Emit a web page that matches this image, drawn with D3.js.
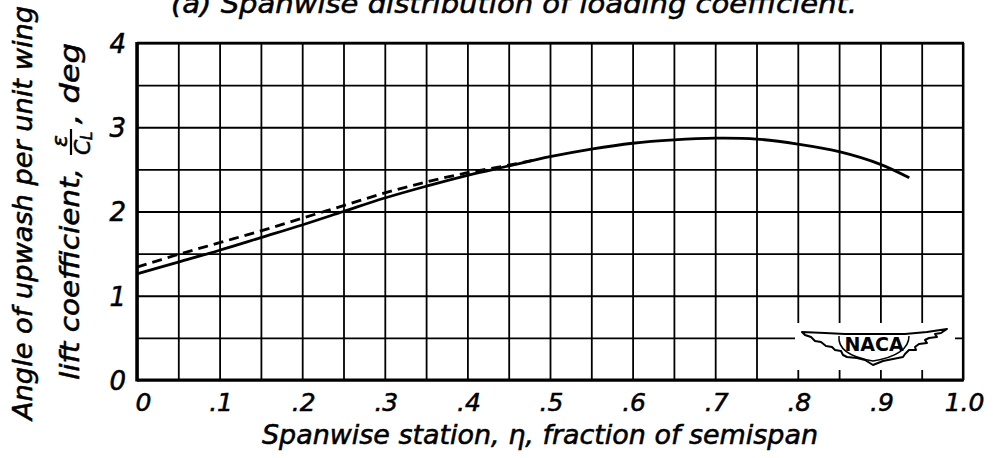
<!DOCTYPE html>
<html><head><meta charset="utf-8">
<script src="https://cdn.jsdelivr.net/npm/d3@7"></script>
<style>
body{margin:0;background:#fff}
svg{display:block}
text{font-family:"DejaVu Sans",sans-serif;font-style:oblique;fill:#000;stroke:#000;stroke-width:0.55px}
</style>
</head><body>
<svg id="c" width="993" height="458"></svg>
<script>
// ---- data ----
const solidEta = [0, 0.05, 0.1, 0.15, 0.2, 0.25, 0.3, 0.35, 0.4, 0.45, 0.5, 0.55, 0.6, 0.65, 0.7, 0.75, 0.8, 0.85, 0.9, 0.935];
const solidVal = [1.26, 1.40, 1.54, 1.69, 1.84, 2.00, 2.16, 2.30, 2.43, 2.54, 2.65, 2.74, 2.81, 2.85, 2.87, 2.86, 2.80, 2.71, 2.56, 2.40];
const dashEta = [0, 0.05, 0.1, 0.15, 0.2, 0.25, 0.3, 0.35, 0.4, 0.45, 0.48];
const dashVal = [1.34, 1.49, 1.63, 1.77, 1.92, 2.07, 2.22, 2.35, 2.46, 2.55, 2.61];
const xTickValues = [0, 0.1, 0.2, 0.3, 0.4, 0.5, 0.6, 0.7, 0.8, 0.9, 1.0];
const xTickLabels = ["0", ".1", ".2", ".3", ".4", ".5", ".6", ".7", ".8", ".9", "1.0"];
const yTickValues = [0, 1, 2, 3, 4];
const yTickLabels = ["0", "1", "2", "3", "4"];
const titleText = "(a) Spanwise distribution of loading coefficient.";
const xTitle = "Spanwise station, \u03b7, fraction of semispan";
const yTitle1 = "Angle of upwash per unit wing";
const yTitle2a = "lift coefficient,";
const yTitle2b = ", deg";

// ---- layout ----
const L = 137, R = 963, T = 43, B = 380;
const svg = d3.select("#c");
const x = d3.scaleLinear().domain([0, 1]).range([L, R]);
const y = d3.scaleLinear().domain([0, 4]).range([B, T]);

// grid via axes
const gx = svg.append("g").attr("transform", `translate(0,${B})`)
  .call(d3.axisBottom(x).tickValues(x.ticks(20)).tickSize(-(B - T)).tickFormat(""));
gx.select(".domain").remove();
gx.selectAll("line").attr("stroke", "#000").attr("stroke-width", 1.8);
const gy = svg.append("g").attr("transform", `translate(${L},0)`)
  .call(d3.axisLeft(y).tickValues(y.ticks(8)).tickSize(-(R - L)).tickFormat(""));
gy.select(".domain").remove();
gy.selectAll("line").attr("stroke", "#000").attr("stroke-width", 1.8);

// frame
svg.append("line").attr("x1", L).attr("x2", L).attr("y1", T - 1).attr("y2", B + 1.5).attr("stroke", "#000").attr("stroke-width", 3.5);
svg.append("line").attr("x1", L).attr("x2", R + 1).attr("y1", B).attr("y2", B).attr("stroke", "#000").attr("stroke-width", 3);
svg.append("line").attr("x1", L).attr("x2", R + 1).attr("y1", T).attr("y2", T).attr("stroke", "#000").attr("stroke-width", 2.4);
svg.append("line").attr("x1", R).attr("x2", R).attr("y1", T).attr("y2", B).attr("stroke", "#000").attr("stroke-width", 2.2);

// tick labels via axes
const ax = svg.append("g").attr("transform", `translate(1,${B})`)
  .call(d3.axisBottom(x).tickValues(xTickValues).tickSize(0).tickPadding(13)
    .tickFormat((d, i) => xTickLabels[i]));
ax.select(".domain").remove();
ax.selectAll("text").style("font-size", "25px").attr("fill", "#000");
ax.selectAll("text").filter((d, i) => i === 0).attr("dx", 5);

const ay = svg.append("g").attr("transform", `translate(${L - 8},0)`)
  .call(d3.axisLeft(y).tickValues(yTickValues).tickSize(0).tickPadding(3)
    .tickFormat((d, i) => yTickLabels[i]));
ay.select(".domain").remove();
ay.selectAll("text").style("font-size", "26px").attr("fill", "#000").attr("dy", "0.36em");

// curves
const line = d3.line().x(d => x(d[0])).y(d => y(d[1])).curve(d3.curveCatmullRom);
svg.append("path").attr("d", line(dashEta.map((e, i) => [e, dashVal[i]])))
  .attr("fill", "none").attr("stroke", "#000").attr("stroke-width", 2.8).attr("stroke-dasharray", "10,6");
svg.append("path").attr("d", line(solidEta.map((e, i) => [e, solidVal[i]])))
  .attr("fill", "none").attr("stroke", "#000").attr("stroke-width", 2.8);

// title (cut off at top, as in the reference)
svg.append("text").attr("x", 171).attr("y", 13).attr("textLength", 686).attr("lengthAdjust", "spacingAndGlyphs")
  .style("font-size", "27px").text(titleText);

// x title
svg.append("text").attr("x", 262).attr("y", 444).attr("textLength", 556).attr("lengthAdjust", "spacingAndGlyphs")
  .style("font-size", "26px").text(xTitle);

// y titles (rotated)
const gyT = svg.append("g").attr("transform", "rotate(-90)");
gyT.append("text").attr("x", -420).attr("y", 32).attr("textLength", 414).attr("lengthAdjust", "spacingAndGlyphs")
  .style("font-size", "27px").text(yTitle1);
gyT.append("text").attr("x", -380).attr("y", 79).attr("textLength", 212).attr("lengthAdjust", "spacingAndGlyphs")
  .style("font-size", "27px").text(yTitle2a);
gyT.append("text").attr("x", -141).attr("y", 67).attr("text-anchor", "middle").style("font-size", "22px").text("\u03b5");
gyT.append("line").attr("x1", -155).attr("x2", -129).attr("y1", 71).attr("y2", 71).attr("stroke", "#000").attr("stroke-width", 2.2);
gyT.append("text").attr("x", -155).attr("y", 90).style("font-size", "22px").text("C");
gyT.append("text").attr("x", -140).attr("y", 92).style("font-size", "15px").text("L");
gyT.append("text").attr("x", -124).attr("y", 79).attr("textLength", 81).attr("lengthAdjust", "spacingAndGlyphs")
  .style("font-size", "27px").text(yTitle2b);

// NACA logo
svg.append("rect").attr("x", 795).attr("y", 323).attr("width", 160).attr("height", 47).attr("fill", "#fff");
const logo = svg.append("g").attr("transform", "translate(875,345)");
const wing = "M-73,-13 L-50,-12 L-30,-11 L0,-11 L30,-11 L52,-13 L72,-16 " +
  "L66,-12 L60,-11 L62,-8 L54,-7 L50,-5 L52,-2 L44,-1 L40,2 L41,5 L34,5 L30,9 L28,12 " +
  "L18,14 L8,16 L-2,20 L-10,15 L-18,13 L-28,12 L-32,10 L-34,6 L-40,5 L-43,2 L-49,1 " +
  "L-54,-3 L-60,-4 L-64,-8 L-70,-10 Z";
logo.append("path").attr("d", wing).attr("fill", "#fff").attr("stroke", "#000").attr("stroke-width", 2).attr("stroke-linejoin", "round");
logo.append("path").attr("d", "M-36,-9 Q-38,10 -2,16 Q34,10 34,-9").attr("fill", "none").attr("stroke", "#000").attr("stroke-width", 1.5);
logo.append("text").attr("x", -1).attr("y", 6).attr("text-anchor", "middle")
  .style("font-size", "19px").style("font-style", "normal").style("font-weight", "bold").style("stroke-width", "0").text("NACA");
</script>
</body></html>
